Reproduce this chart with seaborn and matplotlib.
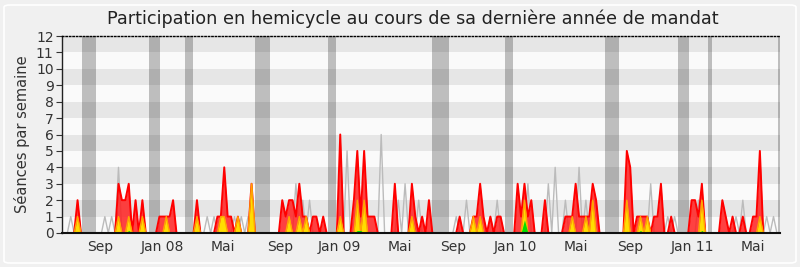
import numpy as np
import pandas as pd
import matplotlib
matplotlib.use("Agg")
import matplotlib.pyplot as plt
import seaborn as sns
from matplotlib.patches import FancyBboxPatch

# ---------------- data (weekly) ----------------
n_weeks = 211

presence_weeks = [5, 17, 18, 19, 20, 22, 24, 29, 30, 31, 32, 33, 40, 46, 47, 48, 49, 50, 52, 56,
                  65, 66, 67, 68, 69, 70, 71, 72, 74, 75, 77, 82, 86, 87, 88, 89, 90, 91, 92,
                  98, 103, 104, 106, 108, 117, 121, 122, 123, 124, 126, 128, 129,
                  134, 135, 136, 137, 138, 142, 148, 149, 150, 151, 152, 153, 154, 155, 156, 157,
                  166, 167, 169, 170, 171, 172, 174, 175, 176, 179, 185, 186, 187, 188,
                  194, 195, 197, 200, 203, 204, 205]
presence_values = [2, 3, 2, 2, 3, 2, 2, 1, 1, 1, 1, 2, 2, 1, 1, 4, 1, 1, 1, 3,
                   2, 1, 2, 2, 1, 3, 1, 1, 1, 1, 1, 6, 2, 5, 1, 5, 1, 1, 1,
                   3, 3, 1, 1, 2, 1, 1, 1, 3, 1, 1, 1, 1,
                   3, 1, 3, 1, 2, 2, 1, 1, 1, 3, 1, 1, 1, 1, 3, 2,
                   5, 4, 1, 1, 1, 1, 1, 1, 3, 1, 2, 2, 1, 3,
                   2, 1, 1, 1, 1, 1, 5]

interv_weeks = [5, 17, 20, 24, 31, 40, 47, 48, 52, 56, 67, 70, 72, 82, 87, 89, 103,
                121, 123, 136, 150, 154, 156, 166, 170, 172, 188, 205]
interv_values = [1, 1, 1, 1, 1, 1, 1, 1, 1, 3, 1, 1, 1, 1, 2, 2, 1,
                 1, 1, 2, 1, 1, 2, 2, 1, 1, 2, 1]

courtes_weeks = [20, 24, 40, 47, 67, 70, 87, 88, 121, 136, 156, 166, 170, 172, 188, 205]
courtes_values = [0.15, 0.1, 0.1, 0.1, 0.1, 0.1, 0.15, 0.15, 0.1, 0.8, 0.1, 0.1, 0.15, 0.1, 0.15, 0.1]

median_weeks = [3, 13, 15, 17, 43, 45, 51, 53, 55, 69, 71, 73, 84, 94, 99, 101, 105,
                116, 119, 126, 128, 137, 143, 145, 148, 152, 154, 173, 178, 180, 187,
                198, 200, 207, 209]
median_values = [1, 1, 1, 4, 1, 1, 1, 1, 1, 3, 2, 2, 5, 6, 2, 3, 2,
                 1, 2, 1, 2, 3, 3, 4, 2, 4, 2, 3, 1, 1, 2,
                 1, 2, 1, 1]

vacances = [(6.3, 10.4), (25.9, 29.2), (36.5, 38.8), (57.0, 61.4), (78.4, 80.8),
            (108.9, 113.9), (130.3, 132.6), (159.6, 163.7), (181.0, 184.2),
            (189.8, 191.0), (210.3, 211.5)]

tick_labels = ["Sep", "Jan 08", "Mai", "Sep", "Jan 09", "Mai", "Sep", "Jan 10",
               "Mai", "Sep", "Jan 11", "Mai"]
tick_weeks = [11.6, 30.0, 47.6, 64.3, 81.6, 99.5, 115.0, 133.2, 151.1, 166.9, 185.1, 203.0]


def weekly(idx, vals):
    s = np.zeros(n_weeks)
    s[np.array(idx)] = vals
    return s


df = pd.DataFrame({
    "semaine": np.arange(n_weeks),
    "presence": weekly(presence_weeks, presence_values),
    "interventions": weekly(interv_weeks, interv_values),
    "courtes": weekly(courtes_weeks, courtes_values),
    "mediane": weekly(median_weeks, median_values),
})

# ---------------- figure ----------------
sns.set_style("white")
plt.rcParams["font.family"] = ["DejaVu Sans"]

BG = "#F0F0F0"
fig = plt.figure(figsize=(8.0, 2.67), dpi=100, facecolor=BG)
frame = FancyBboxPatch((4 / 800, 4 / 267), 792 / 800, 258 / 267,
                       boxstyle="round,pad=0,rounding_size=0.008",
                       transform=fig.transFigure, facecolor=BG,
                       edgecolor="white", lw=1.2, zorder=-10)
fig.patches.append(frame)
ax = fig.add_axes([62 / 800, 34 / 267, 718 / 800, 197 / 267])
ax.set_zorder(5)
ax.set_facecolor("#FAFAFA")

# horizontal bands
for k in range(12):
    ax.axhspan(k, k + 1, color="#E6E6E6" if k % 2 else "#FAFAFA", lw=0, zorder=0)

# vacation periods
for a, b in vacances:
    ax.axvspan(a, b, color="black", alpha=0.24, lw=0, zorder=1)

x = df["semaine"].to_numpy()

sns.lineplot(data=df, x="semaine", y="mediane", color="#BBBBBB", lw=1.0, ax=ax, zorder=2)

ax.fill_between(x, 0, df["presence"], color="#FF2020", alpha=0.85, lw=0, zorder=3)
sns.lineplot(data=df, x="semaine", y="presence", color="#FF0000", lw=1.4, ax=ax, zorder=4)

ax.fill_between(x, 0, df["interventions"], color="#FFDD00", lw=0, zorder=5)
sns.lineplot(data=df, x="semaine", y="interventions", color="#FFA500", lw=1.0, ax=ax, zorder=6)

ax.fill_between(x, 0, df["courtes"], color="#00E000", lw=0, zorder=7)

ax.set_xlim(0.44, 210.9)
ax.set_ylim(0, 12)
ax.set_yticks(range(13))
ax.set_xticks(tick_weeks)
ax.set_xticklabels(tick_labels)
ax.tick_params(axis="x", length=0, pad=5, labelsize=10, labelcolor="#333333")
ax.tick_params(axis="y", length=4, width=0.8, color="#333333", pad=2, labelsize=10,
               labelcolor="#333333", left=True)
ax.set_xlabel("")
ax.set_ylabel("Séances par semaine", fontsize=10.5, color="#333333", labelpad=4)

ax.spines["right"].set_visible(False)
ax.spines["top"].set_linestyle((0, (1, 1.5)))
ax.spines["top"].set_color("black")
ax.spines["top"].set_linewidth(1)
ax.spines["left"].set_color("#222222")
ax.spines["left"].set_linewidth(1)
ax.spines["bottom"].set_color("#111111")
ax.spines["bottom"].set_linewidth(1.5)
ax.spines["bottom"].set_zorder(10)

fig.text(0.516, 1 - 19 / 267, "Participation en hemicycle au cours de sa dernière année de mandat",
         ha="center", va="center", fontsize=12.7, color="#222222")

fig.savefig("out.png", dpi=100, facecolor=BG)
